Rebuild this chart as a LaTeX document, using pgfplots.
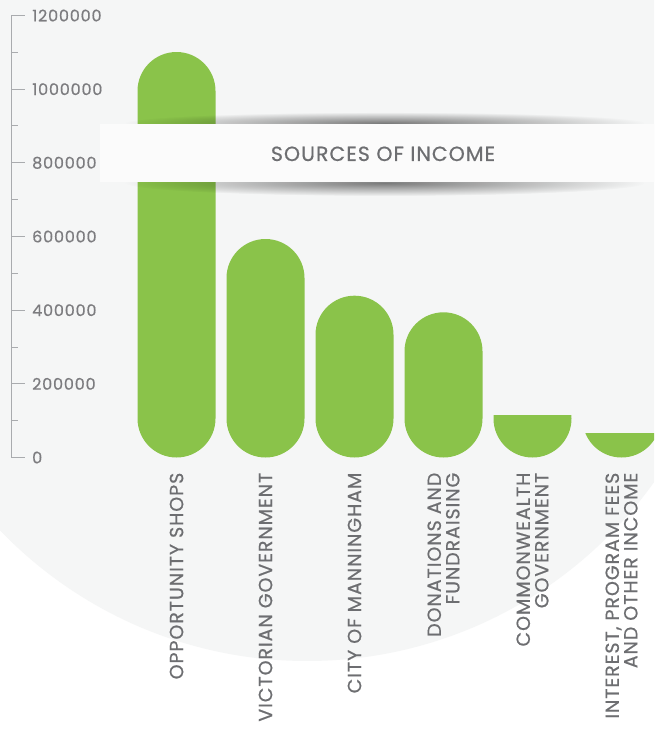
\documentclass[border=0pt]{standalone}
\usepackage{fontspec}
\setmainfont{Poppins}[FakeBold=0.6, LetterSpace=5]
\usepackage{pgfplots}
\pgfplotsset{compat=1.18}
\usetikzlibrary{fadings}

\definecolor{barg}{HTML}{8AC34A}
\definecolor{txt}{HTML}{6D6E71}
\definecolor{axc}{HTML}{A9ABAE}
\definecolor{bgc}{HTML}{F5F6F6}
\definecolor{band}{HTML}{FBFBFB}

\tikzfading[name=softout, inner color=transparent!0, outer color=transparent!100]

% bottom disc of a pill, cut off at the top of the bar
\tikzset{discbar/.style={path picture={%
    \pgfsetfillcolor{barg}%
    \pgfpathcircle{\pgfpointadd{\pgfpointanchor{path picture bounding box}{south}}{\pgfpoint{0pt}{39pt}}}{39pt}%
    \pgfusepath{fill}}}}

\begin{document}
\begin{tikzpicture}[x=1pt,y=1pt]
\clip (0,0) rectangle (654,729);
\fill[white] (0,0) rectangle (654,729);
\fill[bgc] (307,494) circle[radius=426];

\begin{axis}[
    at={(11pt,271.5pt)}, anchor=south west,
    scale only axis,
    width=643pt, height=442pt,
    xmin=-1.8596, xmax=5.3652,
    ymin=0, ymax=1200000,
    axis lines=left,
    axis line style={-, axc, line width=1pt},
    x axis line style={draw=none},
    major x tick style={draw=none},
    tick style={axc, line width=1pt},
    tick align=inside,
    major tick length=14pt,
    minor tick length=7pt,
    ytick={0,200000,...,1200000},
    minor y tick num=1,
    scaled ticks=false,
    /pgf/number format/.cd, fixed, 1000 sep={}, assume math mode=true,
    /pgfplots/.cd,
    yticklabel style={anchor=west, inner sep=0pt, xshift=21pt,
        font=\fontsize{16}{16}\selectfont, text=txt!90},
    xtick={0,1,2,3,4,5},
    xticklabels={OPPORTUNITY SHOPS, VICTORIAN GOVERNMENT, CITY OF MANNINGHAM,
        {DONATIONS AND\\FUNDRAISING}, {COMMONWEALTH\\GOVERNMENT},
        {INTEREST, PROGRAM FEES\\AND OTHER INCOME}},
    xticklabel style={rotate=90, anchor=east, align=right, inner sep=0pt,
        font=\fontsize{19}{18.5}\selectfont, text=txt},
    xticklabel shift=15pt,
]
% tall bars: full pills
\addplot[ybar, bar shift=0pt, bar width=78pt, fill=barg, draw=none,
    rounded corners=39pt] coordinates {
    (0,1100900) (1,593200) (2,439300) (3,394200)
};
% short bars
\addplot[ybar, bar shift=0pt, bar width=78pt, fill=none, draw=none, discbar]
    coordinates {(4,112700)};
\addplot[ybar, bar shift=0pt, bar width=78pt, fill=none, draw=none, discbar]
    coordinates {(5,66500)};
\end{axis}

% title band with soft shadows
\fill[black, opacity=0.5, path fading=softout] (385,606) ellipse[x radius=260, y radius=11];
\fill[black, opacity=0.5, path fading=softout] (385,546) ellipse[x radius=260, y radius=13];
\fill[band] (100,547) rectangle (660,605);
\node[anchor=base, text=txt, font=\fontsize{20.5}{20.5}\selectfont, inner sep=0pt]
    at (383,568) {SOURCES OF INCOME};
\end{tikzpicture}
\end{document}
